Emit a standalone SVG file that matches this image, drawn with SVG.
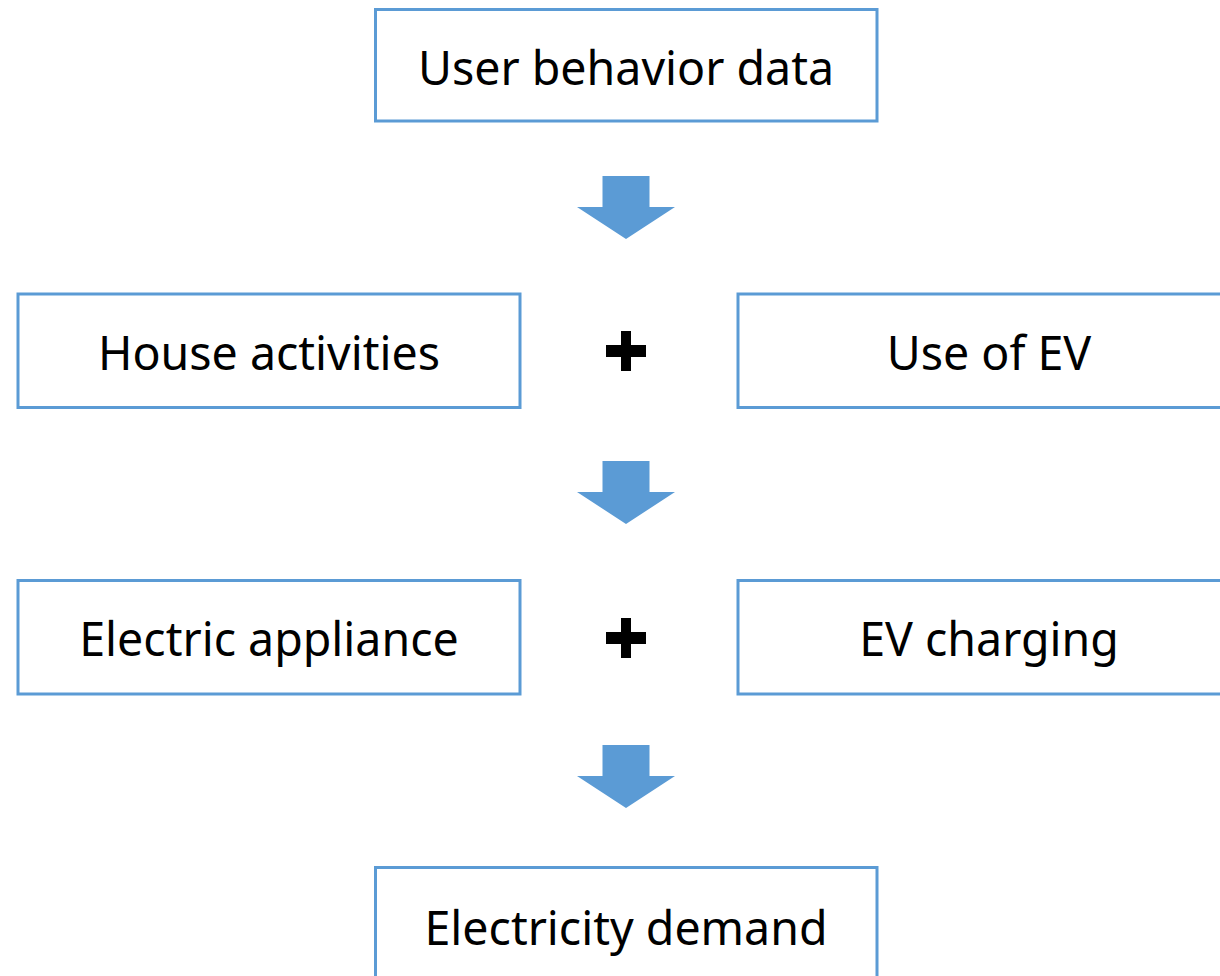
<svg xmlns="http://www.w3.org/2000/svg" width="1220" height="976" viewBox="0 0 1220 976">
  <defs>
    <style>
      .box { fill: #ffffff; stroke: #5B9BD5; stroke-width: 3; }
      .label { font-family: "Noto Sans", "Open Sans", sans-serif; font-size: 46.5px; fill: #000000; text-anchor: middle; dominant-baseline: central; }
      .arrow { fill: #5B9BD5; }
      .plus { fill: #000000; }
    </style>
    <path id="downArrow" class="arrow" d="M -23.5 0 H 23.5 V 31 H 49 L 0 63 L -49 31 H -23.5 Z"/>
    <path id="plusSign" class="plus" d="M -5 -20 H 5 V -6 H 20 V 6 H 5 V 20 H -5 V 6 H -20 V -6 H -5 Z"/>
  </defs>

  <rect width="1220" height="976" fill="#ffffff"/>

  <g id="user-behavior-data">
    <rect class="box" x="375.5" y="9.5" width="501.5" height="111.5"/>
    <text class="label" x="626" y="67">User behavior data</text>
  </g>

  <g id="house-activities">
    <rect class="box" x="18" y="294" width="502" height="113.5"/>
    <text class="label" x="269" y="352">House activities</text>
  </g>

  <g id="use-of-ev">
    <rect class="box" x="738" y="294" width="500" height="113.5"/>
    <text class="label" x="989" y="352">Use of EV</text>
  </g>

  <g id="electric-appliance">
    <rect class="box" x="18" y="580.5" width="502" height="113.5"/>
    <text class="label" x="269" y="638">Electric appliance</text>
  </g>

  <g id="ev-charging">
    <rect class="box" x="738" y="580.5" width="500" height="113.5"/>
    <text class="label" x="989" y="638">EV charging</text>
  </g>

  <g id="electricity-demand">
    <rect class="box" x="375.5" y="867.5" width="501.5" height="120"/>
    <text class="label" x="626" y="927">Electricity demand</text>
  </g>

  <g id="connectors">
    <use href="#downArrow" x="626" y="176"/>
    <use href="#plusSign" x="626" y="351"/>
    <use href="#downArrow" x="626" y="461"/>
    <use href="#plusSign" x="626" y="638"/>
    <use href="#downArrow" x="626" y="745"/>
  </g>
</svg>
